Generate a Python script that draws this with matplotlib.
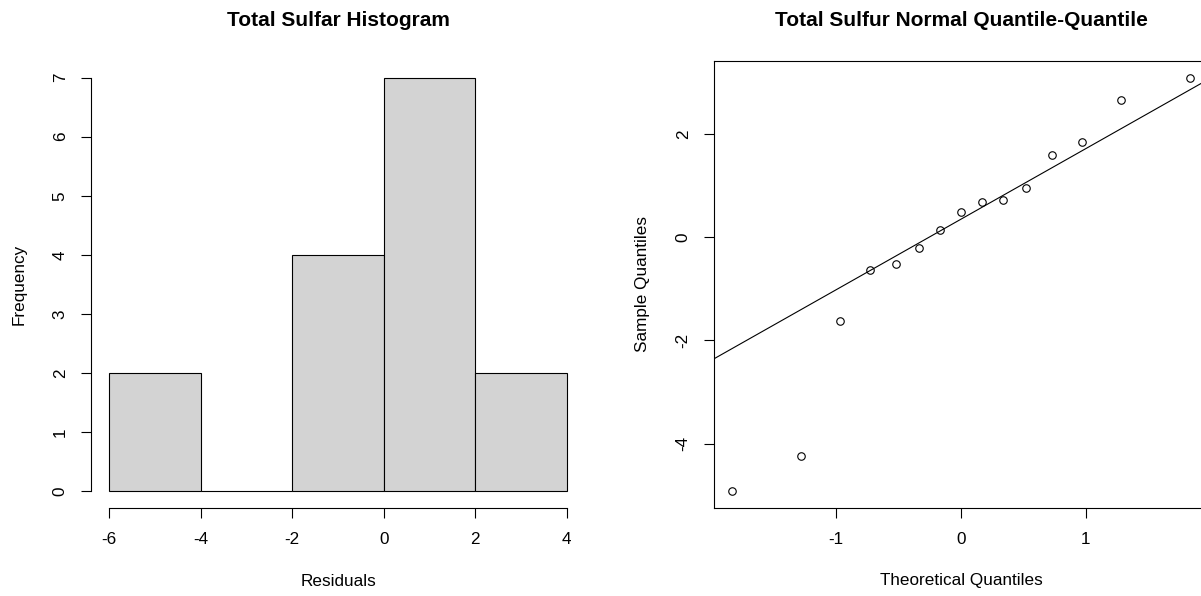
import numpy as np
import matplotlib
matplotlib.use("Agg")
import matplotlib.pyplot as plt
from statistics import NormalDist

# residuals (sorted)
residuals = [-4.93, -4.24, -1.62, -0.63, -0.51, -0.21, 0.15, 0.49,
             0.69, 0.72, 0.96, 1.59, 1.84, 2.66, 3.10]
bin_edges = [-6, -4, -2, 0, 2, 4]
hist_xticks = [-6, -4, -2, 0, 2, 4]
hist_yticks = [0, 1, 2, 3, 4, 5, 6, 7]
qq_xticks = [-1, 0, 1]
qq_yticks = [-4, -2, 0, 2]

plt.rcParams['font.family'] = ['Liberation Sans', 'DejaVu Sans']
plt.rcParams['axes.unicode_minus'] = False
FS = 12.3
TICK_LEN = 7.2
LW = 0.8

fig = plt.figure(figsize=(12.01, 5.96), dpi=100)
W, H = 1201.0, 596.0
bottom = 1 - 508.0 / H
height = 447.0 / H
width = 494.0 / W

def style_ticks(ax):
    ax.tick_params(axis='both', length=TICK_LEN, width=LW, labelsize=FS,
                   direction='out', color='black')
    ax.tick_params(axis='y', pad=15.0)
    ax.tick_params(axis='x', pad=15.6)
    for lbl in ax.get_yticklabels():
        lbl.set_rotation(90)
        lbl.set_ha('center')
        lbl.set_va('center')
    for lbl in ax.get_xticklabels():
        lbl.set_va('center')

# ---- histogram ----
ax1 = fig.add_axes([91.0 / W, bottom, width, height])
ax1.hist(residuals, bins=bin_edges, color='#D3D3D3', edgecolor='black',
         linewidth=LW)
ax1.set_xlim(-6.4, 4.4)
ax1.set_ylim(-0.28, 7.28)
ax1.set_xticks(hist_xticks)
ax1.set_yticks(hist_yticks)
for s in ['top', 'right']:
    ax1.spines[s].set_visible(False)
for s in ['left', 'bottom']:
    ax1.spines[s].set_linewidth(LW)
ax1.spines['bottom'].set_bounds(-6, 4)
ax1.spines['left'].set_bounds(0, 7)
style_ticks(ax1)
ax1.set_title("Total Sulfar Histogram", fontsize=15, fontweight='bold',
              y=(508 - 20) / 447.0, va='center', pad=0)
ax1.set_xlabel("Residuals", fontsize=FS, va='center')
ax1.set_ylabel("Frequency", fontsize=FS, va='center')
ax1.xaxis.set_label_coords(0.5, (508 - 581) / 447.0)
ax1.yaxis.set_label_coords((19 - 91) / 494.0, 0.5)

# ---- normal Q-Q plot ----
n = len(residuals)
theo = [NormalDist().inv_cdf((i + 0.5) / n) for i in range(n)]
sample = sorted(residuals)

ax2 = fig.add_axes([714.0 / W, bottom, width, height])
ax2.plot(theo, sample, linestyle='none', marker='o', markersize=5.4,
         markerfacecolor='none', markeredgecolor='black', markeredgewidth=0.8)
q1, q3 = np.percentile(sample, [25, 75])
z1, z3 = NormalDist().inv_cdf(0.25), NormalDist().inv_cdf(0.75)
ax2.axline((z1, q1), (z3, q3), color='black', linewidth=LW)
xr = max(theo) - min(theo)
yr = max(sample) - min(sample)
ax2.set_xlim(min(theo) - 0.04 * xr, max(theo) + 0.04 * xr)
ax2.set_ylim(min(sample) - 0.04 * yr, max(sample) + 0.04 * yr)
ax2.set_xticks(qq_xticks)
ax2.set_yticks(qq_yticks)
for s in ax2.spines.values():
    s.set_linewidth(LW)
style_ticks(ax2)
ax2.set_title("Total Sulfur Normal Quantile-Quantile", fontsize=15,
              fontweight='bold', y=(508 - 20) / 447.0, va='center', pad=0)
ax2.set_xlabel("Theoretical Quantiles", fontsize=FS, va='center')
ax2.set_ylabel("Sample Quantiles", fontsize=FS, va='center')
ax2.xaxis.set_label_coords(0.5, (508 - 581) / 447.0)
ax2.yaxis.set_label_coords((643 - 714) / 494.0, 0.5)

fig.savefig("out.png", dpi=100)
